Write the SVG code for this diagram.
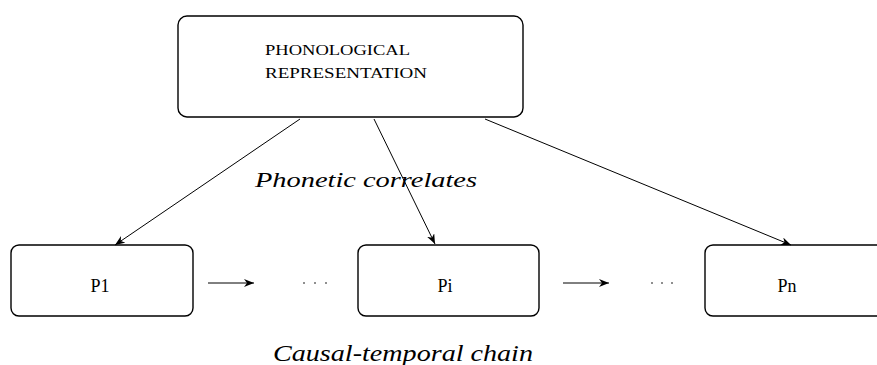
<svg xmlns="http://www.w3.org/2000/svg" width="877" height="365" viewBox="0 0 877 365">
  <style>
    .box { fill: #fff; stroke: #000; stroke-width: 1.4; }
    .lbl { font-family: "Liberation Serif", "DejaVu Serif", serif; fill: #000; }
    .cap { font-family: "Liberation Serif", "DejaVu Serif", serif; font-style: italic; fill: #000; }
    .edge { stroke: #000; stroke-width: 1; fill: none; marker-end: url(#head); }
    .dot { fill: #000; }
  </style>
  <defs>
    <marker id="head" viewBox="0 0 10 8" refX="10" refY="4" markerWidth="10" markerHeight="8" markerUnits="userSpaceOnUse" orient="auto">
      <path d="M0,0 L10,4 L0,8 L3,4 Z" fill="#000"/>
    </marker>
  </defs>
  <rect width="877" height="365" fill="#fff"/>

  <g id="phonological">
    <rect class="box" x="178" y="16" width="345" height="101" rx="9"/>
    <text class="lbl" x="265" y="55" font-size="15" textLength="145" lengthAdjust="spacingAndGlyphs">PHONOLOGICAL</text>
    <text class="lbl" x="265" y="78" font-size="15" textLength="162" lengthAdjust="spacingAndGlyphs">REPRESENTATION</text>
  </g>

  <g id="p1">
    <rect class="box" x="11" y="245" width="182" height="71" rx="8"/>
    <text class="lbl" x="100" y="292" font-size="18" text-anchor="middle">P1</text>
  </g>

  <g id="pi">
    <rect class="box" x="358" y="245" width="181" height="71" rx="8"/>
    <text class="lbl" x="445" y="292" font-size="18" text-anchor="middle">Pi</text>
  </g>

  <g id="pn">
    <rect class="box" x="705" y="245" width="190" height="71" rx="8"/>
    <text class="lbl" x="787" y="292" font-size="18" text-anchor="middle">Pn</text>
  </g>

  <g id="connectors">
    <line class="edge" x1="300" y1="119" x2="115" y2="245"/>
    <line class="edge" x1="374" y1="119" x2="435" y2="244"/>
    <line class="edge" x1="485" y1="119" x2="791" y2="245"/>
    <line class="edge" x1="208" y1="283" x2="254" y2="283"/>
    <line class="edge" x1="563" y1="283" x2="609" y2="283"/>
  </g>

  <!-- ellipses between the chain boxes -->
  <g id="ellipses">
    <circle class="dot" cx="304" cy="283" r="0.8"/>
    <circle class="dot" cx="315" cy="283" r="0.8"/>
    <circle class="dot" cx="326" cy="283" r="0.8"/>
    <circle class="dot" cx="652" cy="283" r="0.8"/>
    <circle class="dot" cx="662" cy="283" r="0.8"/>
    <circle class="dot" cx="672" cy="283" r="0.8"/>
  </g>

  <g id="captions">
    <text class="cap" x="255" y="187" font-size="21" textLength="222" lengthAdjust="spacingAndGlyphs">Phonetic correlates</text>
    <text class="cap" x="273" y="361" font-size="23" textLength="260" lengthAdjust="spacingAndGlyphs">Causal-temporal chain</text>
  </g>
</svg>
